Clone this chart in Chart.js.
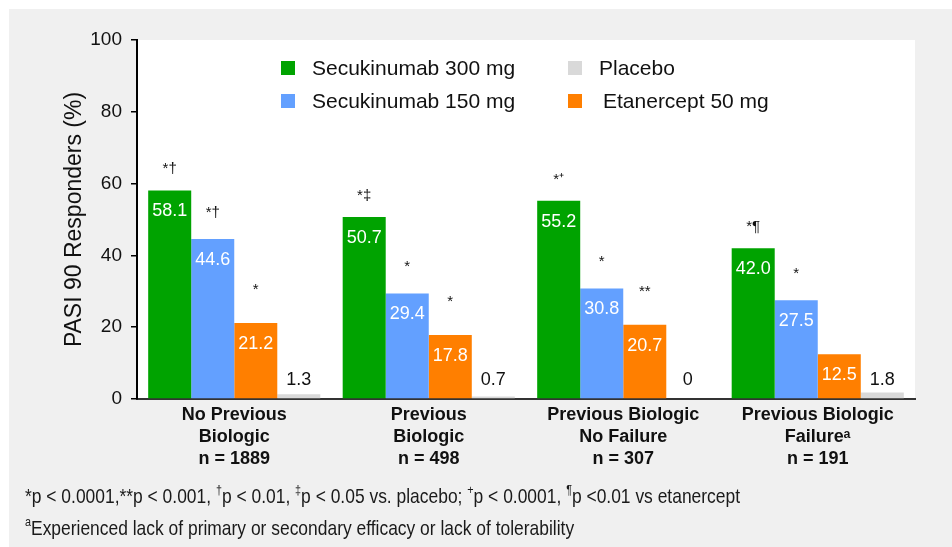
<!DOCTYPE html>
<html>
<head>
<meta charset="utf-8">
<script src="https://cdn.jsdelivr.net/npm/chart.js@4.4.1/dist/chart.umd.min.js"></script>
<style>
  html, body { margin: 0; padding: 0; background: #fff; }
  #wrap { position: relative; width: 952px; height: 547px; }
</style>
</head>
<body>
<div id="wrap"><canvas id="chart" width="952" height="547"></canvas></div>
<script>
// Subgroups on the x axis (multi-line labels)
const categories = [
  ['No Previous', 'Biologic', 'n = 1889'],
  ['Previous', 'Biologic', 'n = 498'],
  ['Previous Biologic', 'No Failure', 'n = 307'],
  ['Previous Biologic', 'Failureᵃ', 'n = 191']
];

// PASI 90 responder rates (%)
const secukinumab300 = [58.1, 50.7, 55.2, 42.0];
const secukinumab150 = [44.6, 29.4, 30.8, 27.5];
const etanercept50   = [21.2, 17.8, 20.7, 12.5];
const placebo        = [1.3, 0.7, 0, 1.8];

// Significance markers printed above the bars
const sig300 = ['*†', '*‡', '*⁺', '*¶'];
const sig150 = ['*†', '*', '*', '*'];
const sigEtanercept = ['*', '*', '**', ''];

const yTicks = [0, 20, 40, 60, 80, 100];

const FONT = '"Liberation Sans", Arial, Helvetica, sans-serif';
Chart.defaults.font.family = FONT;
Chart.defaults.color = '#111';

const COLORS = {
  s300: '#00a300',
  s150: '#63a0ff',
  eta: '#ff7f00',
  pbo: '#d9d9d9'
};

// Page panel: white margin, light grey panel, white plotting area
const backdrop = {
  id: 'backdrop',
  beforeDraw(chart) {
    const { ctx, width, height, chartArea: a } = chart;
    ctx.save();
    ctx.fillStyle = '#ffffff';
    ctx.fillRect(0, 0, width, height);
    ctx.fillStyle = '#f0f0f0';
    ctx.fillRect(9, 9, width - 9, height - 9);
    ctx.fillStyle = '#ffffff';
    ctx.fillRect(a.left, a.top, a.right - a.left, a.bottom - a.top);
    ctx.restore();
  }
};

// Two-column legend: 300 mg / Placebo on the first row, 150 mg / Etanercept on the second
const gridLegend = {
  id: 'gridLegend',
  afterDraw(chart) {
    const { ctx } = chart;
    const ds = chart.data.datasets;
    const slots = [
      { i: 0, x: 281, y: 61, tx: 312 },
      { i: 3, x: 568, y: 61, tx: 599 },
      { i: 1, x: 281, y: 94, tx: 312 },
      { i: 2, x: 568, y: 94, tx: 603 }
    ];
    ctx.save();
    ctx.font = '21px ' + FONT;
    ctx.textBaseline = 'middle';
    ctx.textAlign = 'left';
    slots.forEach(s => {
      ctx.fillStyle = ds[s.i].backgroundColor;
      ctx.fillRect(s.x, s.y, 14, 14);
      ctx.fillStyle = '#111';
      ctx.fillText(ds[s.i].label, s.tx, s.y + 8);
    });
    ctx.restore();
  }
};

// Value labels inside the bars, significance markers above them
const barLabels = {
  id: 'barLabels',
  afterDatasetsDraw(chart) {
    const { ctx } = chart;
    const yZero = chart.scales.y.getPixelForValue(0);
    const fmt = v => (v === 0 ? '0' : v.toFixed(1));
    const marks = [sig300, sig150, sigEtanercept, null];
    const markOffset = [17, 22, 29, 0];
    ctx.save();
    ctx.textAlign = 'center';
    chart.data.datasets.forEach((ds, di) => {
      const meta = chart.getDatasetMeta(di);
      meta.data.forEach((bar, j) => {
        const v = ds.data[j];
        ctx.font = '18px ' + FONT;
        ctx.textBaseline = 'middle';
        if (di === 3) {
          ctx.fillStyle = '#111';
          ctx.fillText(fmt(v), bar.x, yZero - 19);
        } else {
          ctx.fillStyle = '#ffffff';
          ctx.fillText(fmt(v), bar.x, bar.y + 21);
          const m = marks[di][j];
          if (m) {
            ctx.font = '15px ' + FONT;
            ctx.textBaseline = 'alphabetic';
            ctx.fillStyle = '#111';
            ctx.fillText(m, bar.x, bar.y - markOffset[di]);
          }
        }
      });
    });
    ctx.restore();
  }
};

// Footnotes under the chart in a condensed face, with raised symbols
const footnotes = {
  id: 'footnotes',
  afterDraw(chart) {
    const { ctx } = chart;
    const squeeze = 0.83;
    const lines = [
      { y: 503, runs: [
        ['*p < 0.0001,**p < 0.001, '], ['†', 1], ['p < 0.01, '], ['‡', 1], ['p < 0.05 vs. placebo; '],
        ['+', 1], ['p < 0.0001, '], ['¶', 1], ['p <0.01 vs etanercept']
      ] },
      { y: 535, runs: [['a', 1], ['Experienced lack of primary or secondary efficacy or lack of tolerability']] }
    ];
    ctx.save();
    ctx.fillStyle = '#1a1a1a';
    ctx.textBaseline = 'alphabetic';
    ctx.textAlign = 'left';
    ctx.translate(25, 0);
    ctx.scale(squeeze, 1);
    lines.forEach(line => {
      let x = 0;
      line.runs.forEach(([t, sup]) => {
        ctx.font = (sup ? '13px ' : '21px ') + FONT;
        ctx.fillText(t, x, sup ? line.y - 9 : line.y);
        x += ctx.measureText(t).width;
      });
    });
    ctx.restore();
  }
};

new Chart(document.getElementById('chart'), {
  type: 'bar',
  data: {
    labels: categories,
    datasets: [
      { label: 'Secukinumab 300 mg', data: secukinumab300, backgroundColor: COLORS.s300 },
      { label: 'Secukinumab 150 mg', data: secukinumab150, backgroundColor: COLORS.s150 },
      { label: 'Etanercept 50 mg', data: etanercept50, backgroundColor: COLORS.eta },
      { label: 'Placebo', data: placebo, backgroundColor: COLORS.pbo }
    ]
  },
  options: {
    responsive: false,
    animation: false,
    layout: { padding: { left: 0, top: 40, right: 37, bottom: 0 } },
    datasets: { bar: { categoryPercentage: 0.885, barPercentage: 1 } },
    plugins: { legend: { display: false }, tooltip: { enabled: false } },
    scales: {
      x: {
        grid: { display: false, drawTicks: false },
        border: { display: true, color: '#333', width: 2 },
        ticks: {
          color: '#111',
          font: { size: 18, weight: 'bold', lineHeight: 1.22 },
          padding: 5,
          maxRotation: 0,
          autoSkip: false
        },
        afterFit(s) { s.height = 148; }
      },
      y: {
        min: 0,
        max: 100,
        afterBuildTicks(s) { s.ticks = yTicks.map(v => ({ value: v })); },
        grid: { drawOnChartArea: false, drawTicks: true, tickLength: 6, color: '#000', lineWidth: 1.5 },
        border: { display: true, color: '#000', width: 2 },
        ticks: { color: '#111', font: { size: 19 }, padding: 9 },
        title: {
          display: true,
          text: 'PASI 90 Responders (%)',
          color: '#111',
          font: { size: 23 },
          padding: { top: 61, bottom: 0 }
        },
        afterFit(s) { s.width = 137; }
      }
    }
  },
  plugins: [backdrop, gridLegend, barLabels, footnotes]
});
</script>
</body>
</html>
